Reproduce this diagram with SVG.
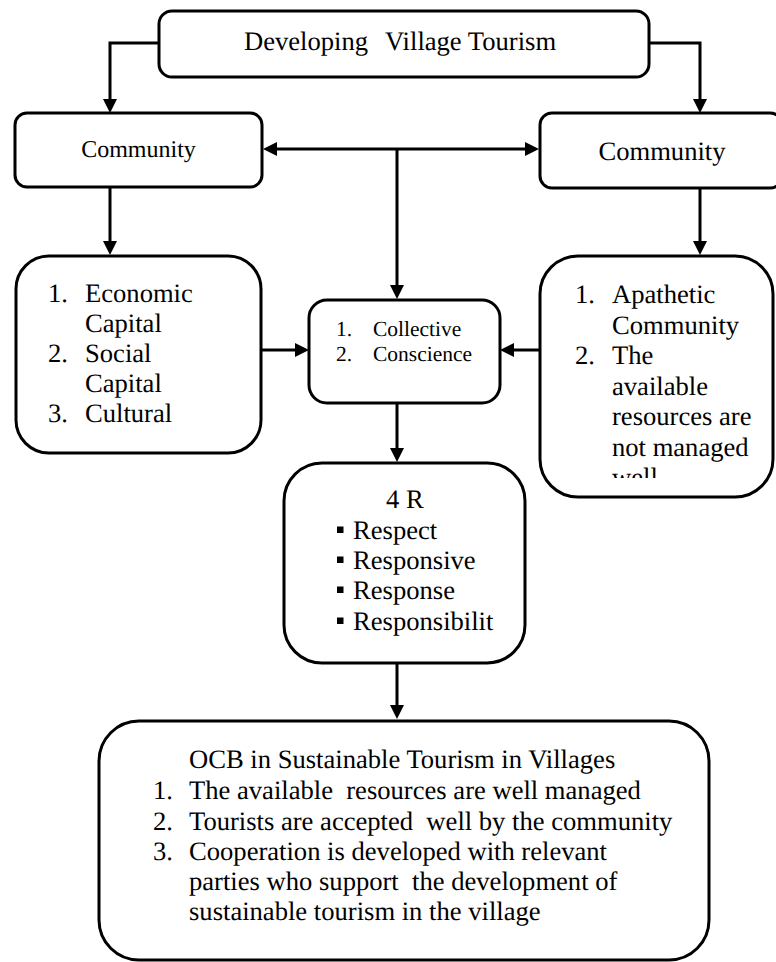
<svg xmlns="http://www.w3.org/2000/svg" width="776" height="962" viewBox="0 0 776 962">
<style>
.box{fill:#fff;stroke:#000;stroke-width:3}
.t{font-family:"Liberation Serif","Times New Roman",Times,serif;font-size:26.6px;fill:#000;text-rendering:geometricPrecision}
.s{font-size:21.5px}
.c{text-anchor:middle}
.con{fill:none;stroke:#000;stroke-width:3}
.bul{fill:#000}
</style>
<defs>
<marker id="ah" viewBox="0 0 14 14" markerWidth="14" markerHeight="14" refX="1" refY="7" orient="auto-start-reverse" markerUnits="userSpaceOnUse">
<path d="M0,0 L14,7 L0,14 z" fill="#000"/>
</marker>
<clipPath id="clipA"><rect x="540" y="256" width="236" height="222"/></clipPath>
</defs>
<rect width="776" height="962" fill="#fff"/>

<g id="connectors">
<path class="con" d="M159,43 H110 V100" marker-end="url(#ah)"/>
<path class="con" d="M649,43 H700 V100" marker-end="url(#ah)"/>
<path class="con" d="M276,149 H526" marker-start="url(#ah)" marker-end="url(#ah)"/>
<path class="con" d="M397,149 V286" marker-end="url(#ah)"/>
<path class="con" d="M110,187 V242" marker-end="url(#ah)"/>
<path class="con" d="M700,188 V242" marker-end="url(#ah)"/>
<path class="con" d="M262,350 H296" marker-end="url(#ah)"/>
<path class="con" d="M539,350 H513" marker-end="url(#ah)"/>
<path class="con" d="M397,403 V449" marker-end="url(#ah)"/>
<path class="con" d="M397,663 V706" marker-end="url(#ah)"/>
</g>

<g id="top">
<rect class="box" x="159" y="11" width="490" height="66" rx="13"/>
<text class="t" y="50"><tspan x="244">Developing</tspan><tspan x="385">Village Tourism</tspan></text>
</g>

<g id="community-left">
<rect class="box" x="15" y="113" width="247" height="74" rx="12"/>
<text class="t c" x="138.5" y="157" style="font-size:24px">Community</text>
</g>

<g id="community-right">
<rect class="box" x="540" y="113" width="242" height="75" rx="12"/>
<text class="t c" x="662" y="160">Community</text>
</g>

<g id="capital">
<rect class="box" x="16" y="256" width="245" height="197" rx="33"/>
<text class="t" x="48" y="302">1.</text>
<text class="t" x="85" y="302">Economic</text>
<text class="t" x="85" y="332">Capital</text>
<text class="t" x="48" y="362">2.</text>
<text class="t" x="85" y="362">Social</text>
<text class="t" x="85" y="392">Capital</text>
<text class="t" x="48" y="422">3.</text>
<text class="t" x="85" y="422">Cultural</text>
</g>

<g id="collective">
<rect class="box" x="309" y="300" width="191" height="103" rx="18"/>
<text class="t s" x="336" y="336">1.</text>
<text class="t s" x="373" y="336">Collective</text>
<text class="t s" x="336" y="361">2.</text>
<text class="t s" x="373" y="361">Conscience</text>
</g>

<g id="apathetic">
<rect class="box" x="540" y="256" width="233" height="241" rx="38"/>
<g clip-path="url(#clipA)">
<text class="t" x="575" y="303">1.</text>
<text class="t" x="612" y="303">Apathetic</text>
<text class="t" x="612" y="334">Community</text>
<text class="t" x="575" y="364">2.</text>
<text class="t" x="612" y="364">The</text>
<text class="t" x="612" y="395">available</text>
<text class="t" x="612" y="425">resources are</text>
<text class="t" x="612" y="456">not managed</text>
<text class="t" x="612" y="486">well</text>
</g>
</g>

<g id="four-r">
<rect class="box" x="284" y="463" width="241" height="200" rx="38"/>
<text class="t" x="386" y="508">4 R</text>
<rect class="bul" x="337" y="526.5" width="6.5" height="6.5"/>
<text class="t" x="353" y="539">Respect</text>
<rect class="bul" x="337" y="556.5" width="6.5" height="6.5"/>
<text class="t" x="353" y="569">Responsive</text>
<rect class="bul" x="337" y="586.5" width="6.5" height="6.5"/>
<text class="t" x="353" y="599">Response</text>
<rect class="bul" x="337" y="617.5" width="6.5" height="6.5"/>
<text class="t" x="353" y="630">Responsibilit</text>
</g>

<g id="ocb">
<rect class="box" x="99" y="721" width="610" height="239" rx="40"/>
<text class="t" x="189" y="768">OCB in Sustainable Tourism in Villages</text>
<text class="t" x="153" y="799">1.</text>
<text class="t" x="189" y="799" xml:space="preserve">The available  resources are well managed</text>
<text class="t" x="153" y="830">2.</text>
<text class="t" x="189" y="830" xml:space="preserve">Tourists are accepted  well by the community</text>
<text class="t" x="153" y="860">3.</text>
<text class="t" x="189" y="860">Cooperation is developed with relevant</text>
<text class="t" x="189" y="890" xml:space="preserve">parties who support  the development of</text>
<text class="t" x="189" y="920">sustainable tourism in the village</text>
</g>
</svg>
